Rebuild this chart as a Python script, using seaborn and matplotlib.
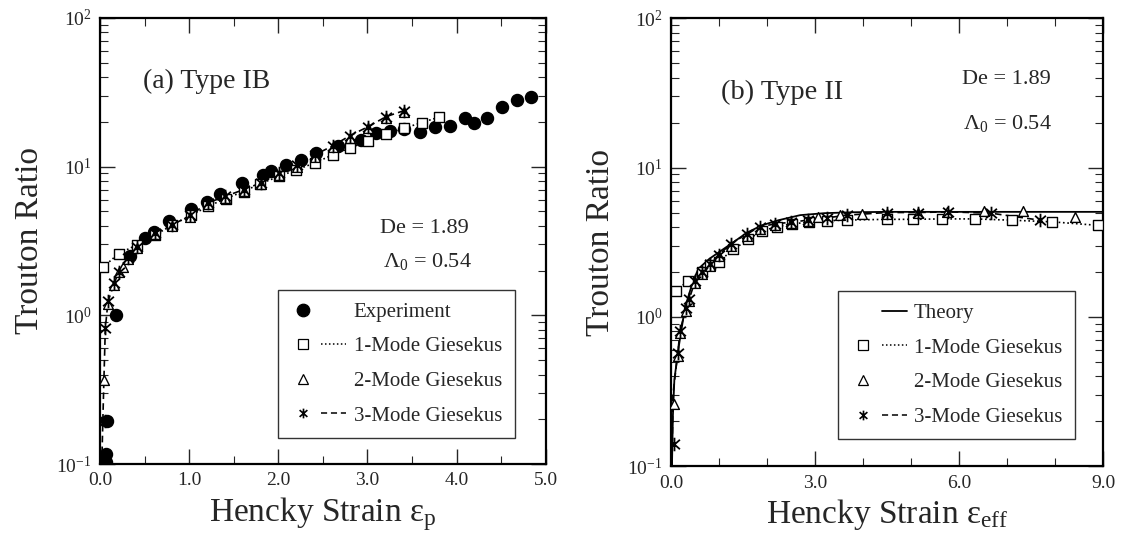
import numpy as np
import pandas as pd
import matplotlib
matplotlib.use("Agg")
import matplotlib.pyplot as plt
from matplotlib.lines import Line2D
from matplotlib.path import Path
from matplotlib.legend_handler import HandlerTuple
from matplotlib.ticker import LogLocator, MultipleLocator, FixedLocator, NullFormatter
import seaborn as sns

# ---- panel (a) Type IB ----
exp_x = [0.07, 0.07, 0.08, 0.18, 0.34, 0.50, 0.61, 0.77, 1.02, 1.20, 1.35, 1.59, 1.83, 1.92,
         2.09, 2.26, 2.42, 2.67, 2.93, 3.10, 3.25, 3.41, 3.59, 3.76, 3.93, 4.09, 4.19, 4.34,
         4.51, 4.68, 4.84]
exp_y = [0.103, 0.117, 0.195, 1.0, 2.5, 3.3, 3.66, 4.3, 5.2, 5.8, 6.5, 7.8, 8.8, 9.4,
         10.2, 11.0, 12.4, 13.8, 15.1, 16.8, 17.5, 17.8, 17.2, 18.6, 18.8, 21.1, 19.8, 21.1,
         25.1, 28.1, 29.6]

a_one_x = [0.03, 0.21, 0.41, 0.62, 0.81, 1.02, 1.21, 1.41, 1.61, 1.80, 2.01, 2.20, 2.41,
           2.61, 2.81, 3.01, 3.21, 3.41, 3.61, 3.80]
a_one_y = [2.1, 2.6, 2.97, 3.47, 4.05, 4.7, 5.4, 6.1, 6.8, 7.7, 8.6, 9.5, 10.6,
           12.0, 13.4, 14.9, 16.6, 18.1, 19.8, 21.5]

a_two_x = [0.05, 0.09, 0.16, 0.21, 0.26, 0.31, 0.41, 0.62, 0.81, 1.01, 1.21, 1.40, 1.61,
           1.81, 2.01, 2.21, 2.41, 2.61, 2.80, 3.01, 3.21, 3.41]
a_two_y = [0.37, 1.2, 1.6, 1.95, 2.1, 2.4, 2.85, 3.5, 4.0, 4.6, 5.6, 6.2, 6.9,
           7.7, 8.8, 10.0, 11.7, 13.5, 15.7, 18.2, 21.2, 23.3]

a_three_x = [0.06, 0.06, 0.09, 0.16, 0.21, 0.31, 0.41, 0.62, 0.81, 1.01, 1.21, 1.40, 1.61,
             1.81, 2.01, 2.21, 2.41, 2.61, 2.80, 3.01, 3.21, 3.41]
a_three_y = [0.195, 0.82, 1.24, 1.64, 1.97, 2.43, 2.9, 3.56, 4.05, 4.7, 5.7, 6.3, 7.0,
             7.8, 9.0, 10.2, 12.0, 13.8, 16.1, 18.6, 21.7, 23.8]
# dashed 3-mode curve reaches the axis floor near zero strain
a_three_curve_x = [0.02, 0.04, 0.06] + a_three_x[2:]
a_three_curve_y = [0.1, 0.3, 0.82] + a_three_y[2:]

# ---- panel (b) Type II ----
theory_x = [0.02, 0.04, 0.07, 0.10, 0.15, 0.29, 0.45, 0.57, 0.80, 0.99, 1.26, 1.58, 1.89,
            2.24, 2.69, 3.2, 3.8, 4.5, 6.0, 7.5, 9.0]
theory_y = [0.1, 0.22, 0.38, 0.45, 0.60, 1.15, 1.7, 2.1, 2.45, 2.7, 3.1, 3.66, 4.1,
            4.44, 4.8, 4.95, 5.02, 5.05, 5.05, 5.05, 5.05]

b_one_x = [0.10, 0.36, 0.64, 0.81, 0.99, 1.30, 1.61, 1.89, 2.20, 2.51, 2.88, 3.24, 3.66,
           4.49, 5.05, 5.64, 6.33, 7.10, 7.94, 8.90]
b_one_y = [1.5, 1.74, 2.0, 2.22, 2.34, 2.83, 3.3, 3.77, 4.0, 4.2, 4.3, 4.4, 4.45,
           4.5, 4.5, 4.53, 4.53, 4.44, 4.33, 4.1]

b_two_x = [0.06, 0.14, 0.19, 0.31, 0.38, 0.50, 0.64, 0.81, 0.99, 1.26, 1.58, 1.85, 2.17,
           2.50, 2.86, 3.07, 3.52, 3.97, 4.49, 5.15, 5.74, 6.51, 7.33, 8.42]
b_two_y = [0.26, 0.55, 0.78, 1.1, 1.28, 1.68, 1.95, 2.2, 2.55, 3.0, 3.5, 3.9, 4.1,
           4.25, 4.4, 4.65, 4.8, 4.85, 4.9, 4.95, 5.05, 5.1, 5.1, 4.7]

b_three_x = [0.06, 0.14, 0.19, 0.31, 0.38, 0.50, 0.64, 0.81, 0.99, 1.26, 1.58, 1.85, 2.17,
             2.50, 2.86, 3.24, 3.66, 4.50, 5.15, 5.78, 6.66, 7.69]
b_three_y = [0.14, 0.57, 0.81, 1.14, 1.32, 1.73, 2.0, 2.25, 2.6, 3.1, 3.6, 4.0, 4.2,
             4.3, 4.45, 4.6, 4.8, 5.0, 5.0, 5.05, 4.95, 4.44]
b_three_curve_x = [0.02, 0.04] + b_three_x[1:]
b_three_curve_y = [0.1, 0.3] + b_three_y[1:]

sns.set_theme(style="ticks")
plt.rcParams["font.family"] = ["Liberation Serif", "DejaVu Serif"]
plt.rcParams["mathtext.fontset"] = "custom"
plt.rcParams["mathtext.rm"] = "Liberation Serif"
plt.rcParams["mathtext.it"] = "Liberation Serif:italic"
plt.rcParams["mathtext.bf"] = "Liberation Serif:bold"

# asterisk: vertical bar plus an X
STAR = Path([(0, -1), (0, 1), (-0.8, -0.7), (0.8, 0.7), (-0.8, 0.7), (0.8, -0.7)],
            [Path.MOVETO, Path.LINETO, Path.MOVETO, Path.LINETO, Path.MOVETO, Path.LINETO])
DOT = (0, (1, 1.6))
DASH = (0, (4, 2.5))


def draw_line(ax, x, y, ls, lw=1.2):
    df = pd.DataFrame({"x": x, "y": y})
    sns.lineplot(data=df, x="x", y="y", ax=ax, color="black", linestyle=ls, lw=lw,
                 estimator=None, sort=False, legend=False)


def draw_marks(ax, x, y, marker, size, filled=False, lw=1.0):
    df = pd.DataFrame({"x": x, "y": y})
    sns.scatterplot(data=df, x="x", y="y", ax=ax, marker=marker, s=size,
                    color="black" if filled else "white", edgecolor="black",
                    linewidth=lw, legend=False, zorder=4)


def draw_stars(ax, x, y):
    df = pd.DataFrame({"x": x, "y": y})
    sns.scatterplot(data=df, x="x", y="y", ax=ax, marker=STAR, s=95,
                    color="black", edgecolor="black", linewidth=1.3, legend=False, zorder=5)


def style_axis(ax, xmax, major, minor, ticklabels):
    ax.set_yscale("log")
    ax.set_xlim(0, xmax)
    ax.set_ylim(0.1, 100)
    ax.xaxis.set_major_locator(FixedLocator([i * major for i in range(len(ticklabels))]))
    ax.set_xticklabels(ticklabels)
    ax.xaxis.set_minor_locator(MultipleLocator(minor))
    ax.yaxis.set_minor_locator(LogLocator(base=10, subs=np.arange(2, 10), numticks=10))
    ax.yaxis.set_minor_formatter(NullFormatter())
    ax.set_yticks([0.1, 1, 10, 100])
    ax.set_yticklabels([r"$10^{-1}$", r"$10^{0}$", r"$10^{1}$", r"$10^{2}$"])
    ax.tick_params(which="major", direction="in", length=11, width=1.0,
                   top=True, right=True, labelsize=14, pad=6)
    ax.tick_params(which="minor", direction="in", length=6, width=0.8, top=True, right=True)
    for sp in ax.spines.values():
        sp.set_linewidth(1.6)
        sp.set_color("black")
    ax.set_ylabel("Trouton Ratio", fontsize=24, labelpad=8)
    ax.grid(False)


fig = plt.figure(figsize=(11.4, 5.44), dpi=100)
ax1 = fig.add_axes([0.0877, 0.147, 0.391, 0.820])
ax2 = fig.add_axes([0.5886, 0.143, 0.379, 0.8235])

# panel (a)
draw_line(ax1, a_one_x, a_one_y, DOT)
draw_line(ax1, a_three_curve_x, a_three_curve_y, DASH)
draw_marks(ax1, exp_x, exp_y, "o", 75, filled=True)
draw_marks(ax1, a_one_x, a_one_y, "s", 62)
draw_marks(ax1, a_two_x, a_two_y, "^", 50)
draw_stars(ax1, a_three_x, a_three_y)
style_axis(ax1, 5.0, 1.0, 0.5, ["0.0", "1.0", "2.0", "3.0", "4.0", "5.0"])
ax1.set_xlabel("Hencky Strain ε$_{\\mathrm{p}}$", fontsize=24, labelpad=4)
ax1.text(0.096, 0.857, "(a) Type IB", transform=ax1.transAxes, fontsize=20, va="center")
ax1.text(0.628, 0.529, "De = 1.89", transform=ax1.transAxes, fontsize=16, va="center")
ax1.text(0.635, 0.455, r"$\Lambda_0$ = 0.54", transform=ax1.transAxes, fontsize=16,
         va="center")

# panel (b)
draw_line(ax2, theory_x, theory_y, "-", lw=1.3)
draw_line(ax2, b_one_x, b_one_y, DOT)
draw_line(ax2, b_three_curve_x, b_three_curve_y, DASH)
draw_marks(ax2, b_one_x, b_one_y, "s", 62)
draw_marks(ax2, b_two_x, b_two_y, "^", 50)
draw_stars(ax2, b_three_x, b_three_y)
style_axis(ax2, 9.0, 3.0, 1.0, ["0.0", "3.0", "6.0", "9.0"])
ax2.set_xlabel("Hencky Strain ε$_{\\mathrm{eff}}$", fontsize=24, labelpad=4)
ax2.text(0.115, 0.835, "(b) Type II", transform=ax2.transAxes, fontsize=20.5, va="center")
ax2.text(0.673, 0.864, "De = 1.89", transform=ax2.transAxes, fontsize=16, va="center")
ax2.text(0.676, 0.766, r"$\Lambda_0$ = 0.54", transform=ax2.transAxes, fontsize=16,
         va="center")


# legends: marker on the left, line sample on the right
def mk(marker, filled=False, ms=6.5, mew=0.9):
    return Line2D([], [], marker=marker, linestyle="none", color="black",
                  markerfacecolor="black" if filled else "white", markersize=ms,
                  markeredgewidth=mew)


def ln(ls, lw=1.1):
    return Line2D([], [], linestyle=ls, color="black", lw=lw)


blank = Line2D([], [], linestyle="none")

leg_kw = dict(handler_map={tuple: HandlerTuple(ndivide=None, pad=0.3)}, handlelength=2.7,
              fontsize=15, frameon=True, fancybox=False, edgecolor="black",
              labelspacing=0.72, borderpad=0.6, handletextpad=0.35, borderaxespad=0)

handles_a = [(mk("o", True, 9), blank), (mk("s"), ln(DOT)), (mk("^"), blank),
             (mk(STAR, ms=7, mew=1.2), ln(DASH))]
labels_a = ["Experiment", "1-Mode Giesekus", "2-Mode Giesekus", "3-Mode Giesekus"]
lg1 = ax1.legend(handles_a, labels_a, loc="lower right", bbox_to_anchor=(0.930, 0.058),
                 **leg_kw)
lg1.get_frame().set_linewidth(1.0)

handles_b = [(blank, ln("-", 1.3)), (mk("s"), ln(DOT)), (mk("^"), blank),
             (mk(STAR, ms=7, mew=1.2), ln(DASH))]
labels_b = ["Theory", "1-Mode Giesekus", "2-Mode Giesekus", "3-Mode Giesekus"]
lg2 = ax2.legend(handles_b, labels_b, loc="lower right", bbox_to_anchor=(0.935, 0.06),
                 **leg_kw)
lg2.get_frame().set_linewidth(1.0)

fig.savefig("out.png", dpi=100)
